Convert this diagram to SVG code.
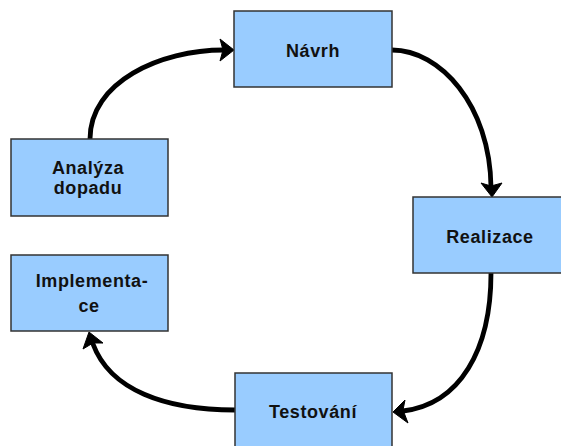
<svg xmlns="http://www.w3.org/2000/svg" width="561" height="446" viewBox="0 0 561 446">
  <style>
    .box { fill: #99CCFF; stroke: #333333; stroke-width: 1.5; }
    .lbl { font-family: "Liberation Sans", Arial, sans-serif; font-weight: bold; font-size: 18px; letter-spacing: 0.6px; fill: #111111; text-anchor: middle; }
    .conn { fill: none; stroke: #000000; stroke-width: 4.8; stroke-linecap: round; }
    .head { fill: #000000; stroke: #000000; stroke-width: 1; stroke-linejoin: miter; }
  </style>
  <rect width="561" height="446" fill="#ffffff"/>

  <g id="connectors">
    <!-- Analýza dopadu -> Návrh -->
    <path class="conn" d="M90,139 C90,82 160,50 224,50"/>
    <polygon class="head" points="234,50 220,39 223,50 220,61"/>
    <!-- Návrh -> Realizace -->
    <path class="conn" d="M392,50 C440,50 490,105 491,187"/>
    <polygon class="head" points="492,197 481,183 491,186 502,183"/>
    <!-- Realizace -> Testování -->
    <path class="conn" d="M491,273 C491,350 460,404 403,411"/>
    <polygon class="head" points="393,412 405,400 403,410 408,423"/>
    <!-- Testování -> Implementace -->
    <path class="conn" d="M235,410 C165,410 110,390 93,344"/>
    <polygon class="head" points="89,332 103,343 93,343 83,349"/>
  </g>

  <g id="navrh">
    <rect class="box" x="234" y="11" width="158" height="76"/>
    <text class="lbl" x="313" y="57">Návrh</text>
  </g>

  <g id="realizace">
    <rect class="box" x="413" y="197" width="150" height="76"/>
    <text class="lbl" x="490" y="243">Realizace</text>
  </g>

  <g id="testovani">
    <rect class="box" x="235" y="373" width="157" height="80"/>
    <text class="lbl" x="313" y="418">Testování</text>
  </g>

  <g id="implementace">
    <rect class="box" x="11" y="255" width="157" height="76"/>
    <text class="lbl" x="92" y="287">Implementa-</text>
    <text class="lbl" x="89" y="312">ce</text>
  </g>

  <g id="analyza">
    <rect class="box" x="11" y="139" width="157" height="77"/>
    <text class="lbl" x="88" y="174">Analýza</text>
    <text class="lbl" x="88" y="194">dopadu</text>
  </g>
</svg>
